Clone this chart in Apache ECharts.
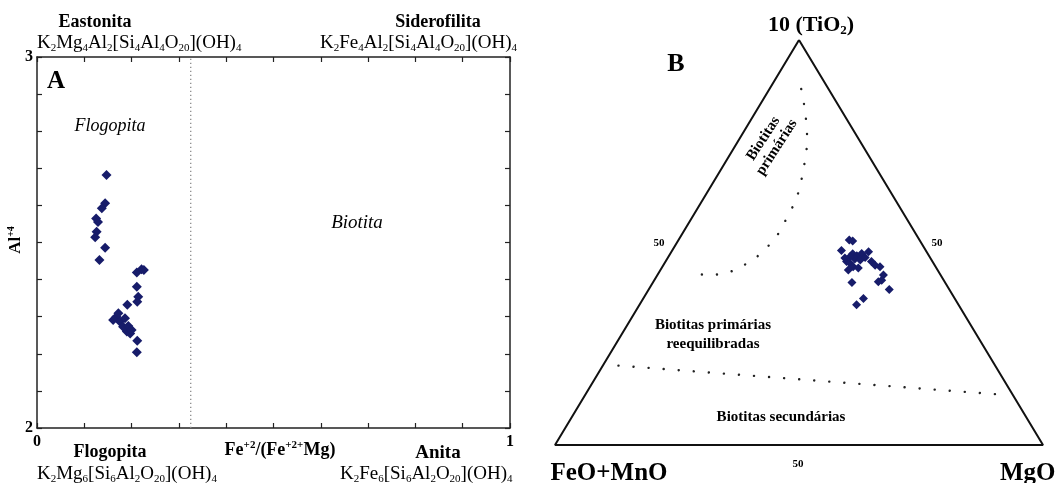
<!DOCTYPE html>
<html>
<head>
<meta charset="utf-8">
<script src="https://cdn.jsdelivr.net/npm/echarts@6/dist/echarts.min.js"></script>
<style>html,body{margin:0;padding:0;background:#fff}#c{width:1057px;height:483px}</style>
</head>
<body>
<div id="c"></div>
<script>
// ---------- Panel A data: Fe+2/(Fe+2+Mg) vs Al(IV) ----------
const aFeRatio = [0.147,0.144,0.137,0.125,0.129,0.126,0.123,0.144,0.132,0.211,0.221,0.226,0.211,0.214,0.212,0.191,0.168,0.161,0.175,0.186,0.182,0.190,0.197,0.193,0.172,0.200,0.212,0.211];
const aAlIV    = [2.682,2.606,2.592,2.565,2.555,2.529,2.514,2.486,2.453,2.419,2.428,2.426,2.381,2.354,2.340,2.332,2.300,2.291,2.287,2.296,2.273,2.260,2.255,2.275,2.309,2.264,2.235,2.204];
const aDivider = 0.325;  // vertical dotted boundary Flogopita / Biotita
const aXTicks = [0, 1];
const aYTicks = [2, 3];

// ---------- Panel B data: ternary 10*TiO2 - FeO+MnO - MgO (percent) ----------
const bTiO2 = [50.6,50.4,48.0,47.2,46.7,47.3,47.7,45.3,44.9,45.9,45.7,46.3,43.2,45.3,44.4,44.0,46.5,44.0,42.0,40.7,40.3,40.1,38.4,36.2,34.6,46.2,43.7];
const bFeO  = [14.4,13.8,17.3,15.4,14.8,13.5,11.9,17.6,17.1,15.6,14.6,13.3,18.3,12.5,12.2,11.4,16.3,16.9,11.7,12.7,13.6,19.1,12.3,18.7,20.9,17.5,16.0];
const bMgO  = [35.0,35.8,34.7,37.4,38.5,39.2,40.4,37.1,38.0,38.5,39.7,40.4,38.5,42.2,43.4,44.6,37.2,39.1,46.3,46.6,46.1,40.8,49.3,45.1,44.5,36.3,40.3];

// boundary "Biotitas primárias" (curve)
const curveTiO2 = [87.9,84.4,80.8,77.1,73.4,69.7,66.0,62.4,58.8,55.6,52.3,49.6,46.9,44.8,43.0,42.1,42.0,42.6];
const curveFeO  = [5.6,6.8,8.2,9.8,11.7,14.0,16.4,18.9,21.9,24.9,28.0,31.1,34.7,38.3,42.0,45.3,48.4,51.2];
const curveMgO  = [6.5,8.8,11.0,13.1,14.9,16.3,17.6,18.7,19.3,19.5,19.7,19.3,18.4,16.9,15.0,12.6,9.6,6.2];
// boundary "reequilibradas / secundárias" (straight)
const lineTiO2 = [19.6, 12.3];
const lineFeO  = [77.2, 0.9];
const lineMgO  = [3.2, 86.8];
// triangle vertices (TiO2 apex, FeO+MnO, MgO)
const triTiO2 = [100, 0, 0, 100];
const triFeO  = [0, 100, 0, 0];
const triMgO  = [0, 0, 100, 0];

// ternary -> cartesian (x: MgO + TiO2/2, y: TiO2)
function tern(t, f, m) { const s = t + f + m; return [(m + t / 2) / s, t / s]; }
function ternSeries(T, F, M) { return T.map((t, i) => tern(t, F[i], M[i])); }

const SERIF = '"Liberation Serif","DejaVu Serif",serif';
const NAVY = '#171c6a';

function formula(str) { return str.replace(/_(\d+)/g, '{s|$1}').replace(/\^([+\d]+)/g, '{p|$1}'); }
function richFor(size) {
  return {
    s: { fontSize: Math.round(size * 0.6), fontFamily: SERIF, verticalAlign: 'bottom', lineHeight: Math.round(size * 0.55), fill: '#000' },
    p: { fontSize: Math.round(size * 0.6), fontFamily: SERIF, verticalAlign: 'top', lineHeight: Math.round(size * 0.55), fill: '#000' }
  };
}
function T(x, y, text, size, opts) {
  opts = opts || {};
  const rich = richFor(size);
  if (opts.weight) { rich.s.fontWeight = opts.weight; rich.p.fontWeight = opts.weight; }
  return {
    type: 'text', x: x, y: y, rotation: opts.rot || 0, z: 100,
    style: {
      text: formula(text), x: 0, y: 0, fontSize: size, fontFamily: SERIF,
      fontWeight: opts.weight || 'normal', fontStyle: opts.style || 'normal',
      fill: '#000', align: opts.align || 'center', verticalAlign: 'middle',
      lineHeight: opts.lh || Math.round(size * 1.15), rich: rich
    }
  };
}

const chart = echarts.init(document.getElementById('c'), null, { renderer: 'canvas' });

const axisLineA = { show: true, onZero: false, lineStyle: { color: '#222', width: 1.5 } };
const tickA = { show: true, inside: true, length: 5, lineStyle: { color: '#222', width: 1.2 } };
const labelFont = { fontFamily: SERIF, fontWeight: 'bold', fontSize: 16, color: '#000' };

const option = {
  animation: false,
  backgroundColor: '#fff',
  grid: [
    { left: 37, top: 57, width: 473, height: 371 },
    { left: 555, top: 40, width: 488, height: 405 }
  ],
  xAxis: [
    { gridIndex: 0, type: 'value', min: 0, max: 1, interval: 0.1, position: 'bottom',
      axisLine: axisLineA, axisTick: tickA, splitLine: { show: false },
      axisLabel: Object.assign({ margin: 6, formatter: v => aXTicks.includes(Math.round(v * 1000) / 1000) ? String(v) : '' }, labelFont) },
    { gridIndex: 0, type: 'value', min: 0, max: 1, interval: 0.1, position: 'top',
      axisLine: axisLineA, axisTick: tickA, splitLine: { show: false }, axisLabel: { show: false } },
    { gridIndex: 1, type: 'value', min: 0, max: 1, show: false }
  ],
  yAxis: [
    { gridIndex: 0, type: 'value', min: 2, max: 3, interval: 0.1, position: 'left',
      axisLine: axisLineA, axisTick: tickA, splitLine: { show: false },
      axisLabel: Object.assign({ margin: 4, formatter: v => aYTicks.includes(Math.round(v * 1000) / 1000) ? String(v) : '' }, labelFont) },
    { gridIndex: 0, type: 'value', min: 2, max: 3, interval: 0.1, position: 'right',
      axisLine: axisLineA, axisTick: tickA, splitLine: { show: false }, axisLabel: { show: false } },
    { gridIndex: 1, type: 'value', min: 0, max: 1, show: false }
  ],
  series: [
    { type: 'line', xAxisIndex: 0, yAxisIndex: 0, showSymbol: false, silent: true,
      data: [[aDivider, 2], [aDivider, 3]],
      lineStyle: { color: '#8a8a8a', width: 1.3, type: [1.3, 2.7] } },
    { type: 'scatter', xAxisIndex: 0, yAxisIndex: 0, symbol: 'diamond', symbolSize: 10,
      itemStyle: { color: NAVY, opacity: 1 },
      data: aFeRatio.map((x, i) => [x, aAlIV[i]]) },
    { type: 'line', xAxisIndex: 2, yAxisIndex: 2, showSymbol: false, silent: true,
      data: ternSeries(triTiO2, triFeO, triMgO),
      lineStyle: { color: '#111', width: 2 } },
    { type: 'line', xAxisIndex: 2, yAxisIndex: 2, showSymbol: false, silent: true,
      data: ternSeries(curveTiO2, curveFeO, curveMgO),
      lineStyle: { color: '#222', width: 2.4, type: [0.1, 15], cap: 'round' } },
    { type: 'line', xAxisIndex: 2, yAxisIndex: 2, showSymbol: false, silent: true,
      data: ternSeries(lineTiO2, lineFeO, lineMgO),
      lineStyle: { color: '#222', width: 2.4, type: [0.1, 15], cap: 'round' } },
    { type: 'scatter', xAxisIndex: 2, yAxisIndex: 2, symbol: 'diamond', symbolSize: 9,
      itemStyle: { color: NAVY, opacity: 1 },
      data: ternSeries(bTiO2, bFeO, bMgO) }
  ],
  graphic: [
    // Panel A texts
    T(95, 22, 'Eastonita', 18, { weight: 'bold' }),
    T(37, 43, 'K_2Mg_4Al_2[Si_4Al_4O_20](OH)_4', 19, { align: 'left' }),
    T(438, 22, 'Siderofilita', 18, { weight: 'bold' }),
    T(320, 43, 'K_2Fe_4Al_2[Si_4Al_4O_20](OH)_4', 19, { align: 'left' }),
    T(56, 82, 'A', 25, { weight: 'bold' }),
    T(110, 126, 'Flogopita', 18, { style: 'italic' }),
    T(357, 223, 'Biotita', 19, { style: 'italic' }),
    T(16, 240, 'Al^+4', 17, { weight: 'bold', rot: Math.PI / 2 }),
    T(110, 452, 'Flogopita', 18, { weight: 'bold' }),
    T(280, 450, 'Fe^+2/(Fe^+2+Mg)', 18, { weight: 'bold' }),
    T(438, 453, 'Anita', 19, { weight: 'bold' }),
    T(37, 474, 'K_2Mg_6[Si_6Al_2O_20](OH)_4', 19, { align: 'left' }),
    T(340, 474, 'K_2Fe_6[Si_6Al_2O_20](OH)_4', 19, { align: 'left' }),
    // Panel B texts
    T(811, 25, '10 (TiO_2)', 22, { weight: 'bold' }),
    T(676, 64, 'B', 26, { weight: 'bold' }),
    T(609, 474, 'FeO+MnO', 25, { weight: 'bold' }),
    T(1000, 474, 'MgO', 25, { weight: 'bold', align: 'left' }),
    T(798, 464, '50', 11, { weight: 'bold' }),
    T(659, 243, '50', 11, { weight: 'bold' }),
    T(937, 243, '50', 11, { weight: 'bold' }),
    T(770, 143, 'Biotitas\nprimárias', 15, { weight: 'bold', rot: 57 * Math.PI / 180, lh: 16 }),
    T(713, 335, 'Biotitas primárias\nreequilibradas', 15, { weight: 'bold', lh: 19 }),
    T(781, 417, 'Biotitas secundárias', 15, { weight: 'bold' })
  ]
};
chart.setOption(option);
</script>
</body>
</html>
